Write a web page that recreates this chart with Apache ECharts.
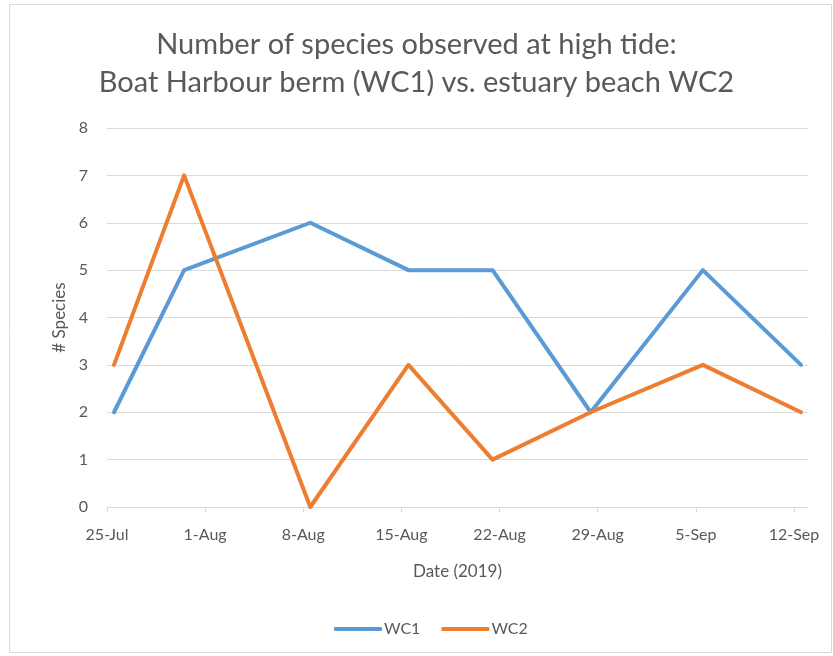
<!DOCTYPE html>
<html><head><meta charset="utf-8">
<script src="https://cdn.jsdelivr.net/npm/echarts@6/dist/echarts.min.js"></script>
<style>html,body{margin:0;padding:0;background:#fff}#c{width:833px;height:656px}</style>
</head><body><div id="c"></div>
<script>
const dates = ['25-Jul','30-Jul','8-Aug','15-Aug','21-Aug','28-Aug','5-Sep','12-Sep'];
const wc1 = [2,5,6,5,5,2,5,3];
const wc2 = [3,7,0,3,1,2,3,2];
const yTicks = [0,1,2,3,4,5,6,7,8];
const xStart = '25-Jul';
const months = {Jul:6,Aug:7,Sep:8};
function toDay(s){const p=s.split('-');return Date.UTC(2019,months[p[1]],+p[0]);}
const DAY=86400000, t0=toDay(xStart);
function fmt(d){const dt=new Date(t0+d*DAY);const m=['Jan','Feb','Mar','Apr','May','Jun','Jul','Aug','Sep','Oct','Nov','Dec'][dt.getUTCMonth()];return dt.getUTCDate()+'-'+m;}
const xs = dates.map(s=>(toDay(s)-t0)/DAY+0.5);
const FONT='Lato, "Open Sans", sans-serif';
const chart = echarts.init(document.getElementById('c'));
chart.setOption({
  animation:false,
  title:{text:'Number of species observed at high tide:\nBoat Harbour berm (WC1) vs. estuary beach WC2',left:'center',top:21,
    textStyle:{fontFamily:FONT,fontWeight:'normal',fontSize:29,color:'#595959',lineHeight:38}},
  graphic:[{type:'rect',shape:{x:9.5,y:4.5,width:822,height:648},style:{fill:'none',stroke:'#d9d9d9',lineWidth:1},silent:true}],
  legend:{bottom:14,left:329,itemWidth:48,itemHeight:4,itemGap:21,icon:'roundRect',
    textStyle:{fontFamily:FONT,fontSize:16,color:'#595959',padding:[0,0,0,-3]},data:['WC1','WC2']},
  grid:{left:107,right:25,top:128,bottom:149},
  xAxis:{type:'value',min:0,max:50,interval:7,name:'Date (2019)',nameLocation:'middle',nameGap:56,
    nameTextStyle:{fontFamily:FONT,fontSize:17,color:'#595959'},
    axisLine:{lineStyle:{color:'#d9d9d9',width:1}},
    axisTick:{show:true,length:5,lineStyle:{color:'#d9d9d9'}},
    splitLine:{show:false},
    axisLabel:{fontFamily:FONT,fontSize:16,color:'#595959',margin:20,showMaxLabel:false,
      formatter:v=>(v%7===0?fmt(v):'')}},
  yAxis:{type:'value',min:yTicks[0],max:yTicks[yTicks.length-1],interval:1,name:'# Species',nameLocation:'middle',nameGap:37,
    nameTextStyle:{fontFamily:FONT,fontSize:17,color:'#595959'},
    axisLine:{show:false},axisTick:{show:false},
    splitLine:{lineStyle:{color:'#d9d9d9',width:1}},
    axisLabel:{fontFamily:FONT,fontSize:16,color:'#595959',margin:19}},
  series:[
    {name:'WC1',type:'line',data:xs.map((x,i)=>[x,wc1[i]]),showSymbol:false,symbol:'none',
      lineStyle:{color:'#5B9BD5',width:4,cap:'round',join:'round'},itemStyle:{color:'#5B9BD5'}},
    {name:'WC2',type:'line',data:xs.map((x,i)=>[x,wc2[i]]),showSymbol:false,symbol:'none',
      lineStyle:{color:'#ED7D31',width:4,cap:'round',join:'round'},itemStyle:{color:'#ED7D31'}}
  ]
});
</script></body></html>
